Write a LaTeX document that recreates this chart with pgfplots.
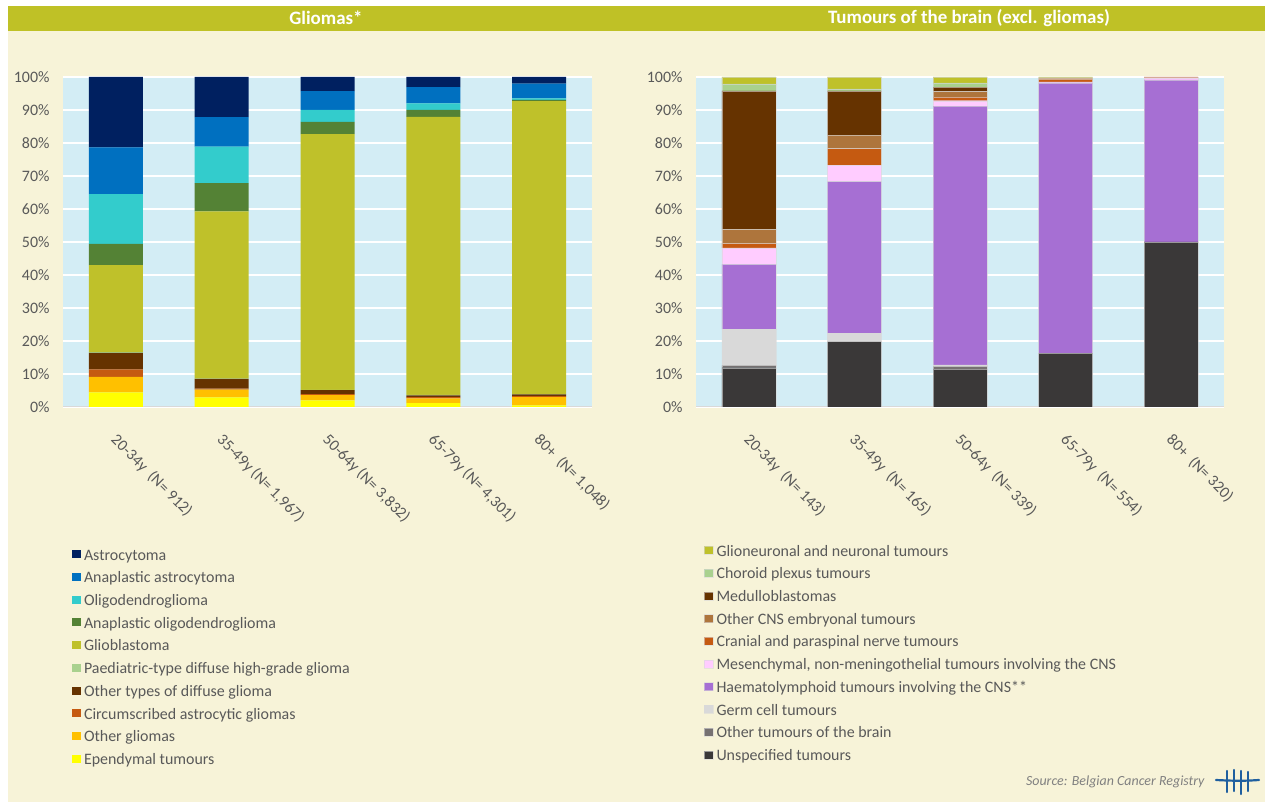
\documentclass[border=0pt]{standalone}
\usepackage{fontspec}
\setmainfont{Carlito}
\usepackage{pgfplots}
\pgfplotsset{compat=1.18}
\usepackage{pgfplotstable}

\definecolor{cream}{HTML}{F7F3D8}
\definecolor{olivebar}{HTML}{BFC126}
\definecolor{plotbg}{HTML}{D3EDF5}
\definecolor{txtgray}{HTML}{595959}
% gliomas
\definecolor{cAs}{HTML}{002060}
\definecolor{cAA}{HTML}{0070C0}
\definecolor{cOl}{HTML}{33CCCC}
\definecolor{cAO}{HTML}{548235}
\definecolor{cGb}{HTML}{BFC12A}
\definecolor{cPd}{HTML}{A9D18E}
\definecolor{cOD}{HTML}{663300}
\definecolor{cCA}{HTML}{C55A11}
\definecolor{cOG}{HTML}{FFC000}
\definecolor{cEp}{HTML}{FFFF00}
% brain
\definecolor{cGN}{HTML}{BFC12A}
\definecolor{cCP}{HTML}{A9D18E}
\definecolor{cMB}{HTML}{663300}
\definecolor{cOE}{HTML}{AE753C}
\definecolor{cCN}{HTML}{C55A11}
\definecolor{cMS}{HTML}{FFCCFF}
\definecolor{cHL}{HTML}{A66FD3}
\definecolor{cGC}{HTML}{D9D9D9}
\definecolor{cOT}{HTML}{767171}
\definecolor{cUN}{HTML}{3A3838}
\definecolor{logoblue}{HTML}{1F5F9F}

% bottom to top
\pgfplotstableread{
x ep og ca od pd gb ao ol aa as
0 4.4 4.7 2.3 5.0 0.2 26.4 6.4 15.1 14.2 21.3
1 2.9 2.4 0.3 2.9 0.1 50.7 8.5 11.1 8.9 12.2
2 2.0 1.6 0.3 1.2 0.1 77.5 3.7 3.6 5.7 4.3
3 1.2 1.4 0.4 0.5 0.2 84.2 2.1 2.0 4.9 3.1
4 0.5 2.5 0.3 0.5 0.1 88.8 0.4 0.4 4.5 2.0
}\gliomas

\pgfplotstableread{
x un ot gc hl ms cn oe mb cp gn
0 11.9 0.7 11.0 19.6 5.0 1.4 4.2 42.0 2.1 2.1
1 19.8 0.0 2.6 45.9 5.0 5.0 4.1 13.4 0.6 3.6
2 11.5 0.8 0.5 78.4 1.6 1.1 1.7 1.3 1.3 1.8
3 16.3 0.0 0.0 81.9 0.3 0.9 0.2 0.0 0.0 0.4
4 50.0 0.0 0.0 49.1 0.6 0.3 0.0 0.0 0.0 0.0
}\brain

\pgfplotsset{
  panel/.style={
    scale only axis, height=330bp,
    ybar stacked, bar width=54bp,
    xmin=-0.5, xmax=4.5, ymin=0, ymax=100,
    xtick={0,...,4}, ytick={0,10,...,100},
    /pgf/number format/assume math mode=true,
    yticklabel={\pgfmathprintnumber{\tick}\%},
    ticklabel style={font=\fontsize{16}{18}\selectfont, text=txtgray},
    yticklabel style={xshift=-10bp},
    xticklabel style={rotate=-45, anchor=north west, inner sep=0pt, xshift=20bp, yshift=-16bp},
    major tick length=0pt,
    axis background/.style={fill=plotbg},
    ymajorgrids, grid style={white, line width=1.5bp},
    axis x line*=bottom, axis y line*=left,
    y axis line style={draw=none},
    x axis line style={draw=black!15, line width=1bp},
    reverse legend,
    legend cell align=left,
    legend image code/.code={\fill[##1] (0bp,-2bp) rectangle (9bp,6bp);},
    legend style={draw=none, fill=none, anchor=north west,
      font=\fontsize{16}{18}\selectfont, text=txtgray,
      nodes={inner sep=1bp, text height=11bp, text depth=3.5bp},
      row sep=6.2bp,
      /tikz/every odd column/.append style={column sep=2bp}},
  },
}

\begin{document}
\begin{tikzpicture}
\begin{scope}[x=1bp,y=1bp]
\useasboundingbox (0,0) rectangle (1271,802);
\fill[white] (0,0) rectangle (1271,802);
\fill[cream] (8,0) rectangle (1265,796);
\fill[olivebar] (8,771) rectangle (1265,796);
\node[text=white, font=\fontsize{19}{21}\selectfont\bfseries] at (326,784) {Gliomas*};
\node[text=white, font=\fontsize{19}{21}\selectfont\bfseries] at (969,784) {Tumours of the brain (excl. gliomas)};
\end{scope}

\begin{axis}[panel, width=529bp, at={(63bp,395bp)}, anchor=south west,
  xticklabels={{20-34y~ (N= 912)},{35-49y (N= 1,967)},{50-64y (N= 3,832)},{65-79y (N= 4,301)},{80+~ (N= 1,048)}},
  legend style={at={(0.011,-0.421)}}]
\addplot[fill=cEp, draw=none] table[x=x,y=ep]{\gliomas};
\addlegendentry{Ependymal tumours}
\addplot[fill=cOG, draw=none] table[x=x,y=og]{\gliomas};
\addlegendentry{Other gliomas}
\addplot[fill=cCA, draw=none] table[x=x,y=ca]{\gliomas};
\addlegendentry{Circumscribed astrocytic gliomas}
\addplot[fill=cOD, draw=none] table[x=x,y=od]{\gliomas};
\addlegendentry{Other types of diffuse glioma}
\addplot[fill=cPd, draw=none] table[x=x,y=pd]{\gliomas};
\addlegendentry{Paediatric-type diffuse high-grade glioma}
\addplot[fill=cGb, draw=none] table[x=x,y=gb]{\gliomas};
\addlegendentry{Glioblastoma}
\addplot[fill=cAO, draw=none] table[x=x,y=ao]{\gliomas};
\addlegendentry{Anaplastic oligodendroglioma}
\addplot[fill=cOl, draw=none] table[x=x,y=ol]{\gliomas};
\addlegendentry{Oligodendroglioma}
\addplot[fill=cAA, draw=none] table[x=x,y=aa]{\gliomas};
\addlegendentry{Anaplastic astrocytoma}
\addplot[fill=cAs, draw=none] table[x=x,y=as]{\gliomas};
\addlegendentry{Astrocytoma}
\node[text=txtgray, font=\fontsize{16}{18}\selectfont] at (axis description cs:0.5,-0.376) {Age category};
\end{axis}

\begin{axis}[panel, width=528bp, at={(696bp,395bp)}, anchor=south west,
  xticklabels={{20-34y~ (N= 143)},{35-49y~ (N= 165)},{50-64y~ (N= 339)},{65-79y~ (N= 554)},{80+~ (N= 320)}},
  legend style={at={(0.0093,-0.409)}},
  every axis plot/.append style={draw=white!70!gray, draw opacity=0.6, line width=0.4bp}]
\addplot[fill=cUN] table[x=x,y=un]{\brain};
\addlegendentry{Unspecified tumours}
\addplot[fill=cOT] table[x=x,y=ot]{\brain};
\addlegendentry{Other tumours of the brain}
\addplot[fill=cGC] table[x=x,y=gc]{\brain};
\addlegendentry{Germ cell tumours}
\addplot[fill=cHL] table[x=x,y=hl]{\brain};
\addlegendentry{Haematolymphoid tumours involving the CNS**}
\addplot[fill=cMS] table[x=x,y=ms]{\brain};
\addlegendentry{Mesenchymal, non-meningothelial tumours involving the CNS}
\addplot[fill=cCN] table[x=x,y=cn]{\brain};
\addlegendentry{Cranial and paraspinal nerve tumours}
\addplot[fill=cOE] table[x=x,y=oe]{\brain};
\addlegendentry{Other CNS embryonal tumours}
\addplot[fill=cMB] table[x=x,y=mb]{\brain};
\addlegendentry{Medulloblastomas}
\addplot[fill=cCP] table[x=x,y=cp]{\brain};
\addlegendentry{Choroid plexus tumours}
\addplot[fill=cGN] table[x=x,y=gn]{\brain};
\addlegendentry{Glioneuronal and neuronal tumours}
\node[text=txtgray, font=\fontsize{16}{18}\selectfont] at (axis description cs:0.5,-0.352) {Age category};
\end{axis}

\begin{scope}[x=1bp,y=1bp]
\node[anchor=east, text=black!50, font=\fontsize{14}{16}\selectfont\itshape] at (1208,20) {Source: Belgian Cancer Registry};
\begin{scope}[logoblue, line width=2.2bp, line cap=round]
\draw (1227,31) -- (1227,10);
\draw (1234,32) -- (1234,11);
\draw (1241,31) -- (1241,8);
\draw (1248,30) -- (1248,11);
\draw (1216,22) .. controls (1235,21) and (1245,21) .. (1259,22);
\end{scope}
\end{scope}
\end{tikzpicture}
\end{document}
